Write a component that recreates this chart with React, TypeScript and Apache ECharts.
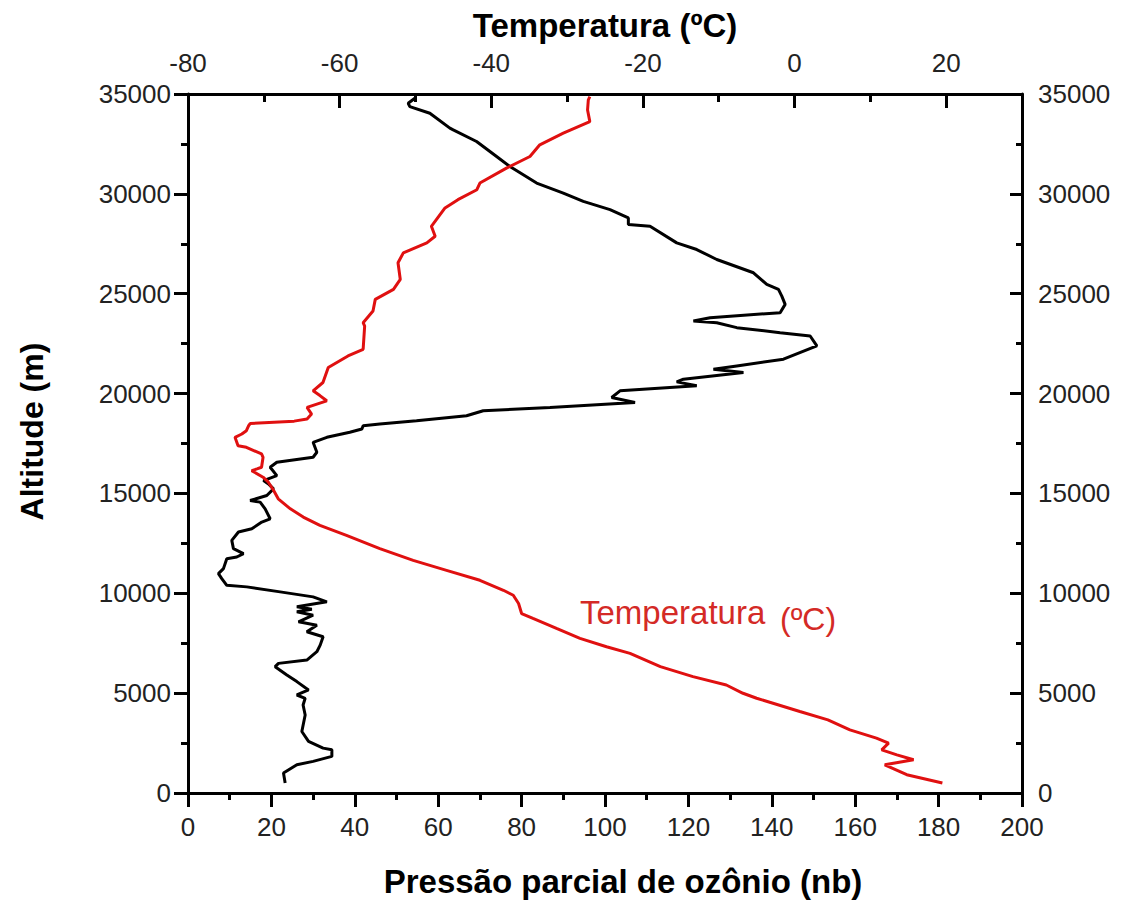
import React, { useEffect, useRef } from "react";
import * as echarts from "echarts";

// Temperature profile (top axis, ºC) vs altitude (m)
const tempAlt = [
  500, 915, 1413, 1663, 1912, 2162, 2496, 2746, 3161, 3660, 4079, 4743, 4993, 5407, 5827, 6326,
  6990, 7325, 7739, 8238, 8738, 8987, 9487, 9901, 10151, 10650, 11150, 11649, 12233, 12897, 13397,
  13815, 14230, 14729, 15144, 15563, 15813, 16142, 16227, 16312, 16811, 16976, 17311, 17390, 17810,
  17975, 18140, 18390, 18500, 18620, 18724, 18973, 19306, 19638, 19900, 20137, 20554, 21303, 21885,
  22219, 23383, 23550, 24132, 24716, 25215, 25714, 26547, 27046, 27546, 27878, 28375, 29294, 29708,
  30208, 30541, 31290, 31871, 32455, 33040, 33618, 34200, 34702, 34867,
];
const tempVal = [
  19.5, 14.8, 11.9, 15.7, 13.5, 11.5, 12.4, 10.8, 7.3, 4.4, 0.7, -5.0, -6.8, -9.0, -13.4, -17.7,
  -21.7, -24.8, -28.3, -31.4, -34.5, -36.0, -36.4, -37.1, -38.4, -41.5, -45.9, -50.3, -54.7, -59.1, -62.6,
  -64.8, -66.5, -68.1, -68.7, -69.4, -70.1, -71.6, -70.9, -70.3, -70.1, -70.3, -72.3, -73.4, -73.8,
  -72.9, -72.3, -72.0, -71.8, -66.0, -64.3, -63.7, -64.3, -61.7, -62.6, -63.5, -62.2, -61.5, -58.9,
  -56.9, -56.7, -56.9, -55.6, -55.3, -52.9, -52.0, -52.3, -51.6, -48.5, -47.4, -47.9, -46.1, -44.4,
  -41.9, -41.5, -38.0, -34.9, -33.6, -30.5, -27.0, -27.3, -27.2, -27.0,
];

// Ozone partial pressure (bottom axis, nb) vs altitude (m)
const ozoneAlt = [
  500, 999, 1413, 1583, 1832, 2162, 2247, 2581, 3081, 3909, 4409, 4743, 4908, 5158, 5577, 5907,
  6326, 6491, 6656, 7075, 7404, 7824, 8074, 8403, 8573, 8903, 9072, 9203, 9322, 9572, 9821, 10071,
  10321, 10400, 10735, 10985, 11234, 11734, 11818, 11983, 12233, 12647, 13067, 13231, 13566, 13731,
  14230, 14564, 14644, 14894, 15229, 15478, 15643, 15893, 16312, 16562, 16811, 17061, 17560, 17810,
  18060, 18225, 18390, 18475, 18640, 18889, 19138, 19306, 19556, 19805, 20137, 20387, 20587, 20721,
  21054, 21220, 21386, 21720, 22385, 22884, 23050, 23300, 23550, 23632, 23799, 24049, 24466, 24881,
  25215, 25465, 26049, 26712, 27212, 27546, 28375, 28460, 28794, 29209, 29623, 30041, 30541, 31370,
  31871, 32121, 32620, 33203, 33290, 34037, 34367, 34537, 34786,
];
const ozoneVal = [
  23.3, 22.9, 26.1, 30.0, 34.5, 34.5, 32.4, 28.9, 27.3, 28.1, 27.6, 28.1, 26.1, 28.9, 26.1, 23.7,
  20.9, 21.7, 28.5, 30.9, 31.7, 32.4, 28.5, 30.9, 26.5, 30.0, 26.1, 29.7, 26.1, 33.3, 30.0, 22.1,
  14.1, 9.3, 8.1, 7.3, 8.5, 9.3, 11.7, 13.3, 10.9, 10.5, 12.1, 15.3, 17.7, 19.7,
  18.5, 17.3, 14.9, 18.9, 20.5, 19.3, 18.1, 21.3, 19.7, 21.3, 30.0, 30.9, 30.0, 33.3,
  38.8, 41.7, 42.0, 46.0, 54.8, 66.8, 70.8, 86.8, 107.2, 101.6, 103.6, 122.0, 117.2, 118.8,
  133.2, 126.0, 131.6, 142.8, 150.8, 149.2, 142.0, 131.6, 126.8, 121.2, 125.2, 142.0, 143.2, 142.4,
  141.6, 138.8, 135.6, 126.8, 122.0, 117.2, 110.8, 105.6, 105.6, 101.2, 94.8, 90.0, 83.6, 77.2,
  74.0, 72.4, 69.2, 63.6, 62.8, 58.0, 53.2, 52.8, 54.4,
];

// Axis ranges [min, max, interval]
const ozoneRange = [0, 200, 20];
const tempRange = [-80, 30, 20];
const altRange = [0, 35000, 5000];

const FONT = "'Liberation Sans', Arial, Helvetica, sans-serif";

export default function App() {
  const ref = useRef<HTMLDivElement>(null);
  useEffect(() => {
    document.body.style.margin = "0";
    if (!ref.current) return;
    const chart = echarts.init(ref.current, null, { renderer: "svg" });
    const ozoneData = ozoneAlt.map((h, i) => [ozoneVal[i], h]);
    const tempData = tempAlt.map((h, i) => [tempVal[i], h]);
    const line = { color: "#000", width: 3 };
    const label = {
      fontSize: 26,
      color: "#222",
      fontFamily: FONT,
      formatter: (v: number) => String(v),
    };
    const title = { fontSize: 33, fontWeight: "bold" as const, color: "#000", fontFamily: FONT };
    chart.setOption({
      animation: false,
      backgroundColor: "#fff",
      grid: { left: 188, top: 94, width: 834, height: 701, containLabel: false },
      xAxis: [
        {
          type: "value",
          position: "bottom",
          min: ozoneRange[0],
          max: ozoneRange[1],
          interval: ozoneRange[2],
          name: "Pressão parcial de ozônio (nb)",
          nameLocation: "middle",
          nameGap: 72,
          nameTextStyle: { ...title, padding: [0, 0, 0, 36] },
          axisLine: { show: true, onZero: false, lineStyle: line },
          axisTick: { show: true, inside: false, length: 14, lineStyle: line },
          minorTick: { show: true, splitNumber: 2, length: 7, lineStyle: line },
          splitLine: { show: false },
          minorSplitLine: { show: false },
          axisLabel: { ...label, margin: 21 },
        },
        {
          type: "value",
          position: "top",
          min: tempRange[0],
          max: tempRange[1],
          interval: tempRange[2],
          name: "Temperatura (ºC)",
          nameLocation: "middle",
          nameGap: 52,
          nameTextStyle: title,
          axisLine: { show: true, onZero: false, lineStyle: line },
          axisTick: { show: true, inside: true, length: 14, lineStyle: line },
          minorTick: { show: true, splitNumber: 2, length: 8, lineStyle: line },
          splitLine: { show: false },
          minorSplitLine: { show: false },
          axisLabel: { ...label, margin: 18, showMaxLabel: false },
        },
      ],
      yAxis: [
        {
          type: "value",
          position: "left",
          min: altRange[0],
          max: altRange[1],
          interval: altRange[2],
          name: "Altitude (m)",
          nameLocation: "middle",
          nameGap: 140,
          nameTextStyle: { ...title, fontSize: 32, padding: [0, 0, 0, 24] },
          axisLine: { show: true, onZero: false, lineStyle: line },
          axisTick: { show: true, inside: false, length: 14, lineStyle: line },
          minorTick: { show: true, splitNumber: 2, length: 7, lineStyle: line },
          splitLine: { show: false },
          minorSplitLine: { show: false },
          axisLabel: { ...label, margin: 17 },
        },
        {
          type: "value",
          position: "right",
          min: altRange[0],
          max: altRange[1],
          interval: altRange[2],
          axisLine: { show: true, onZero: false, lineStyle: line },
          axisTick: { show: true, inside: true, length: 12, lineStyle: line },
          minorTick: { show: true, splitNumber: 2, length: 6, lineStyle: line },
          splitLine: { show: false },
          minorSplitLine: { show: false },
          axisLabel: { ...label, margin: 16 },
        },
      ],
      series: [
        {
          type: "line",
          name: "Ozônio",
          xAxisIndex: 0,
          yAxisIndex: 0,
          data: ozoneData,
          showSymbol: false,
          symbol: "none",
          color: "#000",
          lineStyle: { color: "#000", width: 3 },
        },
        {
          type: "line",
          name: "Temperatura",
          xAxisIndex: 1,
          yAxisIndex: 0,
          data: tempData,
          showSymbol: false,
          symbol: "none",
          color: "#e01010",
          lineStyle: { color: "#e01010", width: 3 },
        },
      ],
      graphic: [
        {
          type: "text",
          x: 580,
          y: 612,
          style: {
            text: "Temperatura",
            fontSize: 33,
            fontFamily: FONT,
            fill: "#d42a26",
            align: "left",
            verticalAlign: "middle",
          },
        },
        {
          type: "text",
          x: 780,
          y: 619,
          style: {
            text: "(ºC)",
            fontSize: 32,
            fontFamily: FONT,
            fill: "#d42a26",
            align: "left",
            verticalAlign: "middle",
          },
        },
      ],
    });
    return () => chart.dispose();
  }, []);
  return <div ref={ref} style={{ width: 1122, height: 903 }} />;
}
